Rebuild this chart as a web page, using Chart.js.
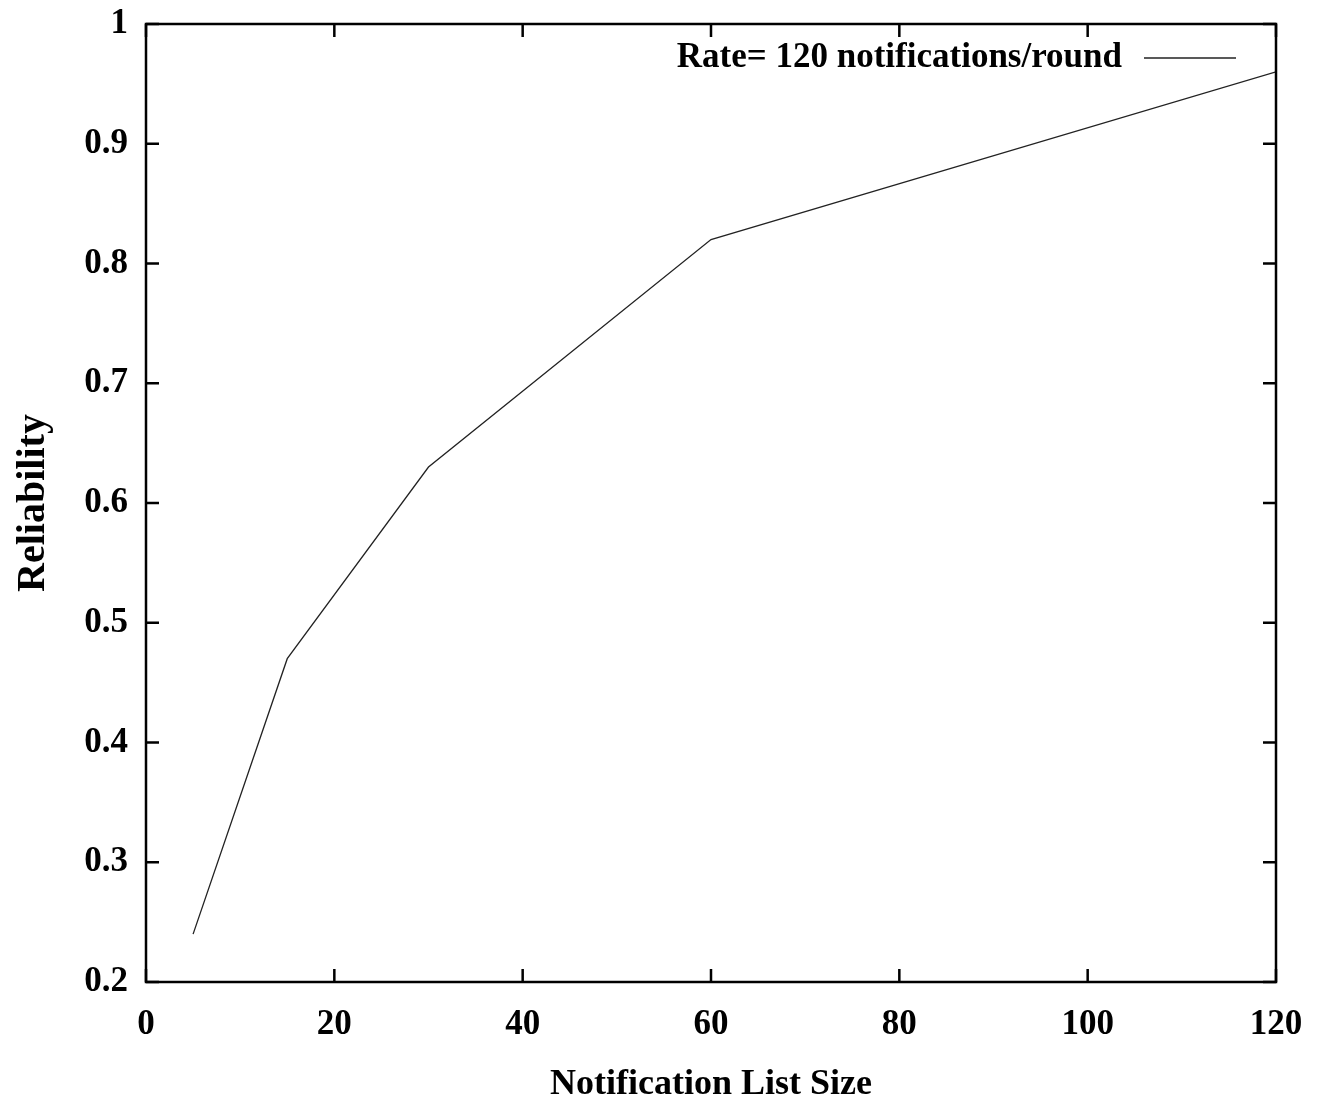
<!DOCTYPE html>
<html>
<head>
<meta charset="utf-8">
<script src="https://cdn.jsdelivr.net/npm/chart.js@4/dist/chart.umd.min.js"></script>
<style>
  html, body { margin: 0; padding: 0; background: #fff; }
  #wrap { width: 1320px; height: 1099px; }
</style>
</head>
<body>
<div id="wrap"><canvas id="chart" width="1320" height="1099"></canvas></div>
<script>
// Data
const LIST_SIZE = [5, 15, 30, 60, 120];
const RELIABILITY = [0.24, 0.47, 0.63, 0.82, 0.96];
const X_TICKS = [0, 20, 40, 60, 80, 100, 120];
const Y_TICKS = [0.2, 0.3, 0.4, 0.5, 0.6, 0.7, 0.8, 0.9, 1];
const SERIES_LABEL = 'Rate= 120 notifications/round';

const FONT = 'Liberation Serif';
const FONT_SIZE = 35;

/* ---- gnuplot-like frame, inward ticks, legend inside plot ---- */
const framePlugin = {
  id: 'frame',
  afterDatasetsDraw(chart) {
    const { ctx, chartArea: a, scales } = chart;
    const len = 13;
    ctx.save();
    ctx.strokeStyle = '#000';
    ctx.lineWidth = 2.5;
    ctx.strokeRect(a.left, a.top, a.right - a.left, a.bottom - a.top);

    ctx.beginPath();
    X_TICKS.forEach((v) => {
      const px = scales.x.getPixelForValue(v);
      ctx.moveTo(px, a.bottom); ctx.lineTo(px, a.bottom - len);
      ctx.moveTo(px, a.top); ctx.lineTo(px, a.top + len);
    });
    Y_TICKS.forEach((v) => {
      const py = scales.y.getPixelForValue(v);
      ctx.moveTo(a.left, py); ctx.lineTo(a.left + len, py);
      ctx.moveTo(a.right, py); ctx.lineTo(a.right - len, py);
    });
    ctx.stroke();

    // legend: text then line sample, top right inside the plot
    const ds = chart.data.datasets[0];
    const ly = a.top + 34;
    ctx.font = `bold ${FONT_SIZE}px "${FONT}"`;
    ctx.fillStyle = '#000';
    ctx.textAlign = 'right';
    ctx.textBaseline = 'middle';
    ctx.fillText(ds.label, a.right - 154, ly);
    ctx.beginPath();
    ctx.strokeStyle = ds.borderColor;
    ctx.lineWidth = ds.borderWidth;
    ctx.moveTo(a.right - 132, ly);
    ctx.lineTo(a.right - 40, ly);
    ctx.stroke();
    ctx.restore();
  },
};

new Chart(document.getElementById('chart').getContext('2d'), {
  type: 'line',
  data: {
    datasets: [
      {
        label: SERIES_LABEL,
        data: LIST_SIZE.map((x, i) => ({ x, y: RELIABILITY[i] })),
        borderColor: '#222',
        borderWidth: 1.3,
        pointRadius: 0,
        tension: 0,
        fill: false,
      },
    ],
  },
  options: {
    responsive: false,
    animation: false,
    layout: { padding: { top: 24, right: 44, left: 0, bottom: 0 } },
    plugins: {
      legend: { display: false },
      tooltip: { enabled: false },
    },
    scales: {
      x: {
        type: 'linear',
        min: 0,
        max: 120,
        afterFit: (s) => { s.height = 117; s.paddingLeft = 0; s.paddingRight = 0; },
        afterBuildTicks: (s) => { s.ticks = X_TICKS.map((v) => ({ value: v })); },
        grid: { display: false, drawTicks: false },
        border: { display: false },
        ticks: {
          padding: 22,
          color: '#000',
          maxRotation: 0,
          font: { family: FONT, size: FONT_SIZE, weight: 'bold' },
          callback: (v) => String(v),
        },
        title: {
          display: true,
          text: 'Notification List Size',
          color: '#000',
          padding: { top: 0, bottom: 0 },
          font: { family: FONT, size: 36, weight: 'bold', lineHeight: 0.8 },
        },
      },
      y: {
        min: 0.2,
        max: 1,
        afterFit: (s) => { s.width = 146; s.paddingTop = 0; s.paddingBottom = 0; },
        afterBuildTicks: (s) => { s.ticks = Y_TICKS.map((v) => ({ value: v })); },
        grid: { display: false, drawTicks: false },
        border: { display: false },
        ticks: {
          padding: 18,
          color: '#000',
          font: { family: FONT, size: FONT_SIZE, weight: 'bold' },
          callback: (v) => String(Number(v.toFixed(1))),
        },
        title: {
          display: true,
          text: 'Reliability',
          color: '#000',
          padding: { top: 14, bottom: 0 },
          font: { family: FONT, size: 40, weight: 'bold', lineHeight: 1 },
        },
      },
    },
  },
  plugins: [framePlugin],
});
</script>
</body>
</html>
